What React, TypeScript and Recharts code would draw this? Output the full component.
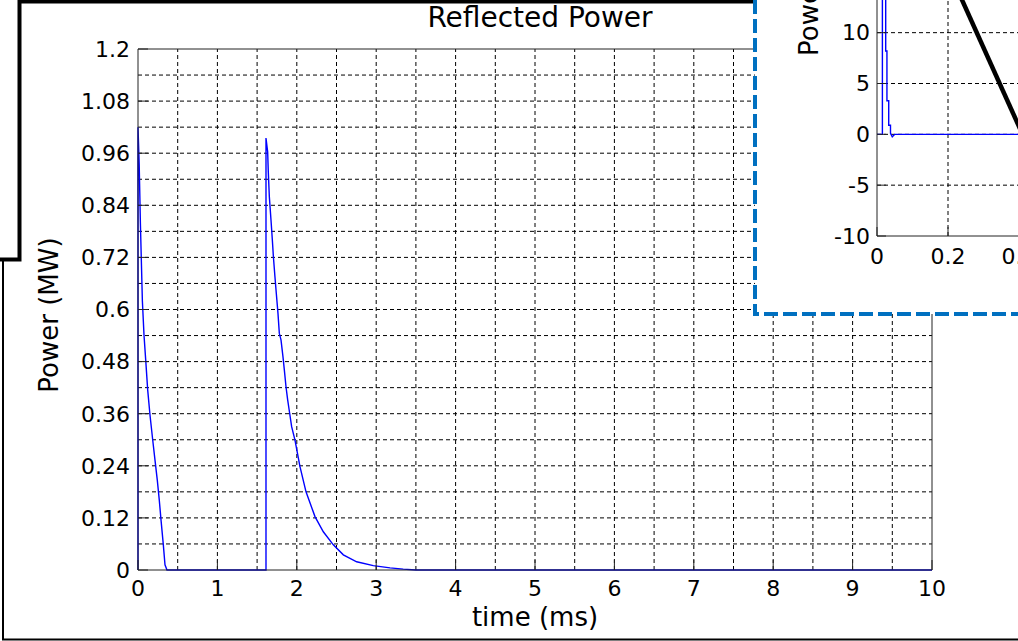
import { LineChart, Line, XAxis, YAxis, ReferenceLine } from 'recharts';

// main trace: reflected power (MW) vs time (ms)
const pulseTime = [
  0, 0, 0.015, 0.03, 0.055, 0.076, 0.097, 0.122, 0.151, 0.185, 0.214, 0.243, 0.268, 0.29, 0.319, 0.34, 0.365,
  1.612, 1.612, 1.633, 1.641, 1.654, 1.675, 1.692, 1.705, 1.725, 1.742, 1.763, 1.78, 1.801, 1.826, 1.843, 1.864,
  1.885, 1.91, 1.935, 1.977, 2.04, 2.116, 2.229, 2.334, 2.46, 2.586, 2.754, 2.963, 3.174, 3.34, 3.5, 10,
];
const pulsePower = [
  0, 1.02, 0.935, 0.8, 0.62, 0.54, 0.484, 0.415, 0.357, 0.3, 0.253, 0.207, 0.161, 0.115, 0.058, 0.012, 0,
  0, 0.995, 0.963, 0.917, 0.86, 0.806, 0.76, 0.722, 0.675, 0.637, 0.591, 0.545, 0.53, 0.491, 0.461, 0.422,
  0.392, 0.361, 0.33, 0.299, 0.238, 0.18, 0.123, 0.088, 0.058, 0.035, 0.019, 0.01, 0.005, 0.002, 0, 0,
];

const timeTicks = [0, 1, 2, 3, 4, 5, 6, 7, 8, 9, 10];
const powerTicks = [0, 0.12, 0.24, 0.36, 0.48, 0.6, 0.72, 0.84, 0.96, 1.08, 1.2];
const gridTime = [0.5, 1, 1.5, 2, 2.5, 3, 3.5, 4, 4.5, 5, 5.5, 6, 6.5, 7, 7.5, 8, 8.5, 9, 9.5];
const gridPower = [0.06, 0.12, 0.18, 0.24, 0.3, 0.36, 0.42, 0.48, 0.54, 0.6, 0.66, 0.72, 0.78, 0.84, 0.9, 0.96, 1.02, 1.08, 1.14];

// zoomed inset (cut off by the picture edge)
const insetTime = [0, 0.0152, 0.0152, 0.0245, 0.0245, 0.028, 0.028, 0.033, 0.033, 0.038, 0.038, 0.043, 0.05, 1];
const insetPower = [0, 0, 20, 20, 8.2, 8.2, 3.3, 3.3, 0.9, 0.9, 0.1, -0.25, 0, 0];
const insetTimeTicks = [0, 0.2, 0.4, 0.6, 0.8, 1];
const insetPowerTicks = [-10, -5, 0, 5, 10, 15, 20];
const insetGridTime = [0.2, 0.4, 0.6, 0.8];
const insetGridPower = [-5, 0, 5, 10, 15];
const arrowSegment = [{ x: 0.152, y: 20 }, { x: 0.41, y: 0 }];

const mainData = pulseTime.map((t, i) => ({ t, p: pulsePower[i] }));
const insetData = insetTime.map((t, i) => ({ t, p: insetPower[i] }));

const font = 'DejaVu Sans';
const tickStyle = { fill: '#000', fontSize: 22, fontFamily: font };
const dash = '4 3';

export default function App() {
  return (
    <div style={{ position: 'absolute', left: 0, top: 0, width: 1018, height: 641, background: '#fff', fontFamily: font, overflow: 'hidden' }}>
      <div style={{ position: 'absolute', left: 0, top: 0 }}>
        <LineChart width={1018} height={641} data={mainData} margin={{ top: 39, right: 76, bottom: 31, left: 58 }}>
          <XAxis xAxisId="b" dataKey="t" type="number" domain={[0, 10]} ticks={timeTicks} interval={0}
            tickSize={-10} tickMargin={20} height={40} stroke="#222" tick={tickStyle} />
          <XAxis xAxisId="t" orientation="top" dataKey="t" type="number" domain={[0, 10]} ticks={timeTicks} interval={0}
            tickSize={-10} height={10} stroke="#222" tick={false} />
          <YAxis yAxisId="l" type="number" domain={[0, 1.2]} ticks={powerTicks} interval={0}
            tickSize={-10} tickMargin={18} width={80} stroke="#222" tick={tickStyle}
            tickFormatter={(v: number) => String(+v.toFixed(2))} />
          <YAxis yAxisId="r" orientation="right" type="number" domain={[0, 1.2]} ticks={powerTicks} interval={0}
            tickSize={-10} width={10} stroke="#222" tick={false} />
          {gridTime.map((v) => (
            <ReferenceLine key={'gx' + v} xAxisId="b" yAxisId="l" x={v} stroke="#000" strokeDasharray={dash} />
          ))}
          {gridPower.map((v) => (
            <ReferenceLine key={'gy' + v} xAxisId="b" yAxisId="l" y={v} stroke="#000" strokeDasharray={dash} />
          ))}
          <Line xAxisId="b" yAxisId="l" dataKey="p" stroke="#0000ff" strokeWidth={1.4} dot={false} isAnimationActive={false} />
        </LineChart>
      </div>

      <div style={{ position: 'absolute', left: 755, top: 0, width: 263, height: 314, background: '#fff', overflow: 'hidden' }}>
        <div style={{ position: 'absolute', left: 0, top: -79 }}>
          <LineChart width={487} height={355} data={insetData} margin={{ top: 10, right: 10, bottom: 0, left: 62 }}>
            <XAxis dataKey="t" type="number" domain={[0, 1]} ticks={insetTimeTicks} interval={0}
              tickSize={-9} tickMargin={21} height={40} stroke="#222" tick={tickStyle} />
            <YAxis type="number" domain={[-10, 20]} ticks={insetPowerTicks} interval={0}
              tickSize={-9} tickMargin={16} width={60} stroke="#222" tick={tickStyle} />
            {insetGridTime.map((v) => (
              <ReferenceLine key={'ix' + v} x={v} stroke="#000" strokeDasharray={dash} />
            ))}
            {insetGridPower.map((v) => (
              <ReferenceLine key={'iy' + v} y={v} stroke="#000" strokeDasharray={dash} />
            ))}
            <Line dataKey="p" stroke="#0000ff" strokeWidth={1.4} dot={false} isAnimationActive={false} />
            <ReferenceLine segment={arrowSegment} stroke="#000" strokeWidth={4.5} />
          </LineChart>
        </div>
      </div>

      <svg width={1018} height={641} style={{ position: 'absolute', left: 0, top: 0, pointerEvents: 'none' }}>
        <text x={540} y={27} textAnchor="middle" fontSize={28} fill="#000">Reflected Power</text>
        <text x={535} y={626} textAnchor="middle" fontSize={26} fill="#000">time (ms)</text>
        <text transform="translate(58,315) rotate(-90)" textAnchor="middle" fontSize={26} fill="#000">Power (MW)</text>
        <text transform="translate(818,56) rotate(-90)" textAnchor="start" fontSize={26} fill="#000">Power (kW)</text>
        <path d="M753 1.5 H19.5 V259.5 H0" fill="none" stroke="#000" strokeWidth={4} />
        <path d="M3 261 V639.5 H1018" fill="none" stroke="#000" strokeWidth={2} />
        <path d="M755 0 V314 H1018" fill="none" stroke="#0070c0" strokeWidth={4} strokeDasharray="14 5" />
      </svg>
    </div>
  );
}
